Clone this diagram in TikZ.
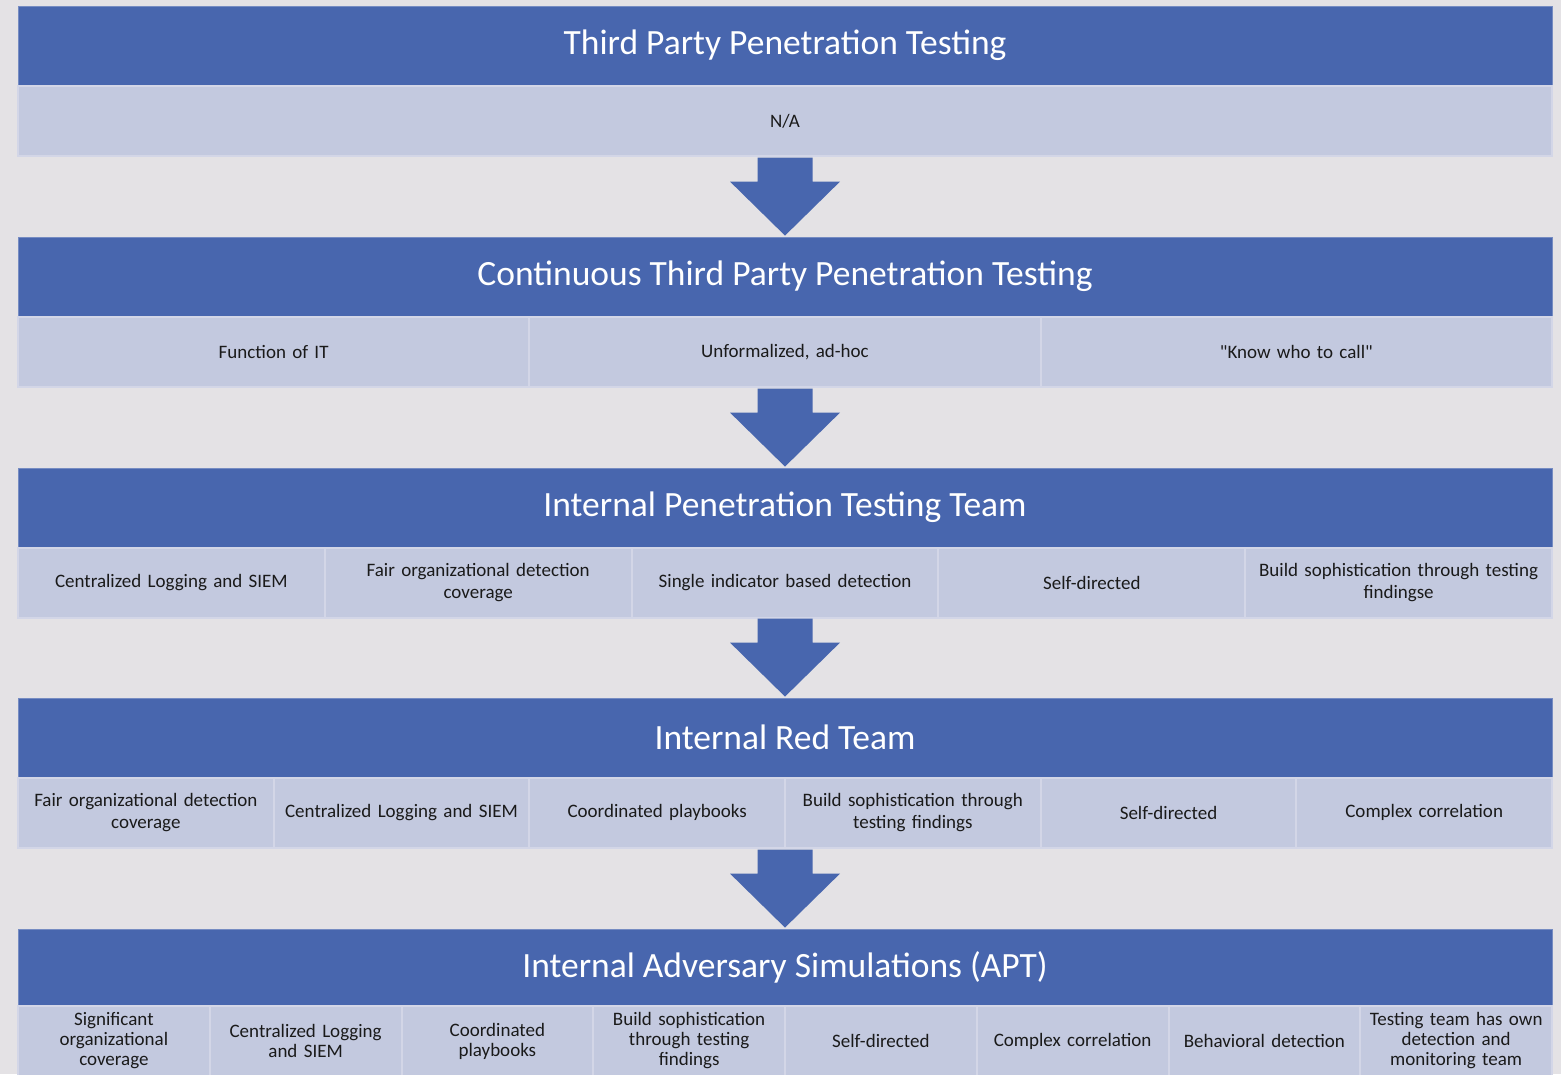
\documentclass[tikz,border=0pt]{standalone}
\usepackage{fontspec}
\setmainfont{Carlito}[Ligatures=TeXOff]
\usetikzlibrary{calc}
\definecolor{bgc}{HTML}{E4E2E5}
\definecolor{hdr}{HTML}{4866AE}
\definecolor{cellc}{HTML}{C3C9DF}
\definecolor{cellline}{HTML}{D3D6E7}
\definecolor{txt}{HTML}{1A1A1A}
\newcommand\bkarrow[1]{%
  \fill[hdr] ($(#1.north)+(-27.5,-79)$) -- ($(#1.north)+(27.5,-79)$) -- ($(#1.north)+(27.5,-55)$) --
    ($(#1.north)+(55,-55)$) -- ($(#1.north)+(0,-1)$) -- ($(#1.north)+(-55,-55)$) --
    ($(#1.north)+(-27.5,-55)$) -- cycle;}
\newcommand\cellrow[5][]{%
  \foreach \t [count=\i] in {#5} {
    \node[cellbox, #1, minimum width={1534pt/#3}, text width={1534pt/#3-4pt}] (#2c\i) at ({18+(\i-0.5)*1534/#3},#4) {\t};
  }}
\begin{document}
\begin{tikzpicture}[x=1pt,y=-1pt,
  hdrbox/.style={fill=hdr, draw=hdr!75!white, line width=0.8pt, minimum width=1534pt, inner sep=0pt,
    text=white, font=\fontsize{35.5}{40}\selectfont},
  cellbox/.style={fill=cellc, draw=cellline, line width=2pt, inner sep=0pt, minimum height=70pt,
    align=center, text=txt, font=\fontsize{19}{21.5}\selectfont}]
\useasboundingbox (0,0) rectangle (1561,1074);
\clip (0,0) rectangle (1561,1074);
\fill[bgc] (0,0) rectangle (1561,1074);
% row 1
\node[hdrbox, minimum height=79pt] (h1) at (785,45.5) {Third Party Penetration Testing};
\cellrow{r1}{1}{121}{{N/A}}
% row 2
\node[hdrbox, minimum height=79pt] (h2) at (785,276.5) {Continuous Third Party Penetration Testing};
\cellrow{r2}{3}{352}{{Function of IT},{Unformalized, ad-hoc},{"Know who to call"}}
% row 3
\node[hdrbox, minimum height=79pt] (h3) at (785,507.5) {Internal Penetration Testing Team};
\cellrow{r3}{5}{582.5}{{Centralized Logging and SIEM},{Fair organizational detection\\coverage},{Single indicator based detection},{Self-directed},{Build sophistication through testing\\findingse}}
% row 4
\node[hdrbox, minimum height=79pt] (h4) at (785,737.5) {Internal Red Team};
\cellrow{r4}{6}{812.5}{{Fair organizational detection\\coverage},{Centralized Logging and SIEM},{Coordinated playbooks},{Build sophistication through\\testing findings},{Self-directed},{Complex correlation}}
% row 5
\node[hdrbox, minimum height=77pt] (h5) at (785,967.5) {Internal Adversary Simulations (APT)};
\cellrow[font={\fontsize{19}{20}\selectfont}]{r5}{8}{1041}{{Significant\\organizational\\coverage},{Centralized Logging\\and SIEM},{Coordinated\\playbooks},{Build sophistication\\through testing\\findings},{Self-directed},{Complex correlation},{Behavioral detection},{Testing team has own\\detection and\\monitoring team}}
% arrows
\bkarrow{h2}
\bkarrow{h3}
\bkarrow{h4}
\bkarrow{h5}
\end{tikzpicture}
\end{document}
